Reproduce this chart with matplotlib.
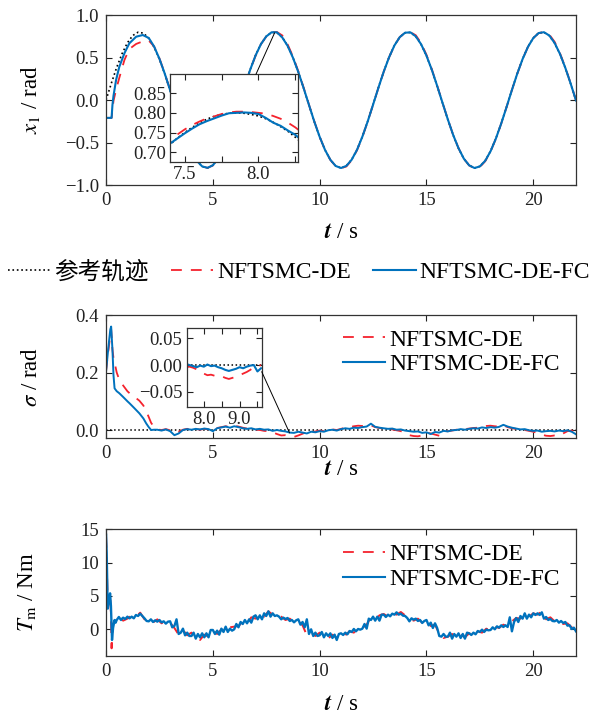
import numpy as np
import matplotlib
matplotlib.use("Agg")
import matplotlib.pyplot as plt
from matplotlib.lines import Line2D
from matplotlib.patches import ConnectionPatch

plt.rcParams["font.family"] = ["Liberation Serif", "Noto Sans CJK SC"]
plt.rcParams["mathtext.fontset"] = "stix"
plt.rcParams["font.size"] = 13.5

BLUE = "#0072BD"
RED = "#F5222D"
DASH = (6, 5)
LABEL_FS = 16.5

LABELS = ["参考轨迹", "NFTSMC-DE", "NFTSMC-DE-FC"]

# ---------------- x1 (position tracking) ----------------
t_ref = np.linspace(0, 22, 89)          # 0.25 s samples
x_ref = [0.000, 0.198, 0.384, 0.545,
         0.673, 0.759, 0.798, 0.787,
         0.727, 0.622, 0.479, 0.305,
         0.113, -0.087, -0.281, -0.457,
         -0.605, -0.716, -0.782, -0.799,
         -0.767, -0.687, -0.564, -0.407,
         -0.224, -0.027, 0.172, 0.360,
         0.526, 0.659, 0.750, 0.796,
         0.792, 0.738, 0.639, 0.500,
         0.330, 0.139, -0.060, -0.256,
         -0.435, -0.588, -0.704, -0.776,
         -0.800, -0.774, -0.700, -0.583,
         -0.429, -0.249, -0.053, 0.146,
         0.336, 0.505, 0.643, 0.741,
         0.792, 0.795, 0.748, 0.654,
         0.520, 0.354, 0.165, -0.034,
         -0.230, -0.413, -0.569, -0.691,
         -0.769, -0.800, -0.780, -0.713,
         -0.601, -0.451, -0.274, -0.080,
         0.120, 0.312, 0.484, 0.627,
         0.730, 0.788, 0.797, 0.757,
         0.669, 0.540, 0.377, 0.191,
         -0.007]

t_x_start = [0.0, 0.1, 0.2, 0.26, 0.30, 0.35, 0.47, 0.62, 0.86, 1.09, 1.41, 1.72, 2.0, 2.25]
x1_fc_start = [-0.21, -0.21, -0.21, -0.21, -0.06, 0.05, 0.235, 0.39, 0.55, 0.667, 0.745, 0.765, 0.73, 0.63]
x1_de_start = [-0.21, -0.21, -0.21, -0.21, -0.12, -0.01, 0.12, 0.26, 0.47, 0.60, 0.66, 0.69, 0.70, 0.63]

t_x_tail = np.linspace(2.5, 22.0, 79)   # 0.25 s samples
x1_fc_tail = [0.485, 0.310,
              0.116, -0.084, -0.279, -0.455,
              -0.603, -0.715, -0.781, -0.798,
              -0.768, -0.689, -0.566, -0.410,
              -0.227, -0.030, 0.170, 0.358,
              0.524, 0.657, 0.748, 0.797,
              0.797, 0.736, 0.637, 0.498,
              0.330, 0.140, -0.058, -0.254,
              -0.433, -0.586, -0.703, -0.776,
              -0.800, -0.775, -0.702, -0.585,
              -0.431, -0.251, -0.055, 0.144,
              0.334, 0.503, 0.642, 0.740,
              0.792, 0.796, 0.749, 0.656,
              0.522, 0.356, 0.167, -0.032,
              -0.228, -0.411, -0.567, -0.690,
              -0.769, -0.800, -0.781, -0.715,
              -0.603, -0.453, -0.276, -0.082,
              0.118, 0.310, 0.482, 0.625,
              0.729, 0.788, 0.798, 0.759,
              0.671, 0.542, 0.379, 0.193,
              -0.005]
x1_de_tail = [0.490, 0.312,
              0.118, -0.082, -0.276, -0.452,
              -0.601, -0.713, -0.780, -0.799,
              -0.770, -0.692, -0.570, -0.414,
              -0.230, -0.033, 0.167, 0.355,
              0.522, 0.656, 0.748, 0.797,
              0.800, 0.760, 0.655, 0.512,
              0.338, 0.145, -0.055, -0.252,
              -0.432, -0.586, -0.704, -0.778,
              -0.802, -0.782, -0.708, -0.590,
              -0.434, -0.253, -0.056, 0.143,
              0.333, 0.502, 0.641, 0.740,
              0.793, 0.798, 0.762, 0.670,
              0.532, 0.362, 0.170, -0.030,
              -0.227, -0.410, -0.566, -0.690,
              -0.770, -0.802, -0.788, -0.720,
              -0.606, -0.455, -0.277, -0.083,
              0.117, 0.309, 0.481, 0.624,
              0.728, 0.788, 0.799, 0.770,
              0.684, 0.550, 0.384, 0.196,
              -0.003]

# zoomed window of x1 around the second peak
t_zoom_x = np.linspace(7.35, 8.30, 20)
x_ref_zoom = [0.700, 0.719, 0.736, 0.750, 0.763, 0.774, 0.784, 0.791, 0.796, 0.799,
              0.800, 0.799, 0.796, 0.792, 0.785, 0.776, 0.765, 0.753, 0.738, 0.722]
x1_fc_zoom = [0.708, 0.722, 0.735, 0.748, 0.760, 0.771, 0.779, 0.786, 0.793, 0.799,
              0.800, 0.801, 0.800, 0.797, 0.787, 0.775, 0.767, 0.755, 0.744, 0.728]
x1_de_zoom = [0.712, 0.727, 0.745, 0.758, 0.769, 0.778, 0.786, 0.791, 0.797, 0.801,
              0.803, 0.803, 0.802, 0.800, 0.798, 0.792, 0.785, 0.775, 0.763, 0.748]

# ---------------- sigma (sliding variable) ----------------
t_s_start = [0.0, 0.1, 0.2, 0.24, 0.30, 0.35, 0.40, 0.50, 0.62, 0.80, 1.00, 1.10,
             1.30, 1.56, 1.75, 1.88, 2.00, 2.11, 2.25]
s_fc_start = [0.203, 0.28, 0.35, 0.36, 0.28, 0.19, 0.145, 0.135, 0.128, 0.115, 0.100, 0.093,
              0.078, 0.058, 0.040, 0.023, 0.010, 0.000, 0.001]
s_de_start = [0.205, 0.27, 0.33, 0.35, 0.28, 0.25, 0.235, 0.200, 0.175, 0.155, 0.135, 0.128,
              0.117, 0.102, 0.085, 0.066, 0.045, 0.025, 0.010]

t_s_tail = np.linspace(2.4, 22.0, 99)   # 0.2 s samples
s_fc_tail = [0.001, -0.002, 0.002, -0.004, -0.018, -0.012, 0.000, 0.003, 0.001, 0.004,
             0.002, 0.005, 0.003, -0.004, 0.006, 0.009, 0.012, 0.008, 0.013, 0.010,
             0.006, 0.004, 0.006, 0.002, 0.004, 0.001, 0.002, -0.003, 0.000, -0.003,
             -0.005, -0.009, -0.010, -0.006, -0.009, -0.012, -0.006, -0.008, -0.004, -0.006,
             -0.001, 0.001, -0.002, 0.003, 0.006, 0.004, 0.008, 0.007, 0.010, 0.012,
             0.022, 0.011, 0.008, 0.006, 0.004, 0.005, 0.001, 0.002, -0.002, -0.004,
             -0.006, -0.005, -0.010, -0.008, -0.014, -0.007, -0.009, -0.003, -0.005, -0.001,
             0.000, 0.003, 0.001, 0.004, 0.006, 0.005, 0.009, 0.007, 0.010, 0.008,
             0.011, 0.018, 0.012, 0.008, 0.005, 0.002, 0.003, -0.001, -0.003, -0.002,
             -0.006, -0.004, -0.003, -0.005, -0.002, -0.004, -0.001, -0.006, -0.015]
s_de_tail = [0.002, 0.000, 0.003, -0.001, -0.008, -0.006, 0.001, 0.004, 0.002, 0.003,
             0.001, 0.004, 0.002, 0.000, 0.007, 0.010, 0.013, 0.011, 0.015, 0.012,
             0.008, 0.005, 0.004, 0.001, 0.000, -0.003, -0.004, -0.008, -0.014, -0.019,
             -0.018, -0.021, -0.024, -0.019, -0.013, -0.006, -0.008, -0.005, -0.002, -0.004,
             0.000, 0.002, 0.000, 0.004, 0.008, 0.010, 0.013, 0.015, 0.014, 0.012,
             0.016, 0.010, 0.007, 0.005, 0.003, 0.002, -0.001, -0.004, -0.009, -0.018,
             -0.021, -0.022, -0.019, -0.010, -0.012, -0.016, -0.020, -0.006, -0.004, -0.002,
             0.001, 0.002, 0.003, 0.005, 0.007, 0.008, 0.011, 0.014, 0.015, 0.013,
             0.012, 0.016, 0.010, 0.006, 0.004, 0.001, 0.000, -0.003, -0.006, -0.010,
             -0.016, -0.020, -0.021, -0.019, -0.020, -0.012, -0.004, -0.002, -0.008]

t_zoom_s = np.linspace(7.5, 9.6, 22)
s_fc_zoom = [0.002, 0.000, -0.002, -0.004, -0.001, -0.003, 0.001, -0.002, -0.001, -0.004, -0.006,
             -0.009, -0.011, -0.009, -0.007, -0.004, -0.006, -0.003, -0.001, 0.000, -0.012, -0.006]
s_de_zoom = [-0.004, -0.003, -0.005, -0.008, -0.012, -0.016, -0.019, -0.018, -0.020, -0.019, -0.021,
             -0.024, -0.026, -0.024, -0.022, -0.019, -0.016, -0.013, -0.009, -0.004, -0.002, 0.000]

# ---------------- Tm (motor torque) ----------------
t_tm_fc_start = [0.0, 0.03, 0.08, 0.13, 0.19, 0.23, 0.28, 0.33, 0.40, 0.45]
tm_fc_start = [14.2, 11.5, 3.1, 4.2, 5.4, 3.5, -1.6, 0.2, 1.4, 1.0]
t_tm_fc = np.linspace(0.5, 22.0, 216)   # 0.1 s samples
tm_fc = [1.4, 1.85, 1.4, 1.75, 1.55,
         1.9, 1.65, 1.9, 1.65, 2.15, 2.0, 2.35, 2.0, 1.65, 1.25,
         1.2, 1.5, 1.1, 1.35, 1.15, 1.4, 1.05, 1.2, 0.85, 1.15,
         1.2, 0.3, 0.5, 1.5, -0.7, -0.5, 0.1, -0.9, -0.5, -1.0,
         -1.0, -0.5, -1.4, -0.7, -1.2, -0.6, -1.2, -0.6, -1.2, -0.1,
         -0.1, -0.7, -0.2, -0.8, 0.1, -0.4, 0.4, -0.4, 0.1, -0.2,
         0.0, 0.8, 0.3, 1.1, 0.8, 1.4, 0.9, 1.5, 1.0, 1.9,
         2.1, 1.5, 2.1, 1.5, 2.4, 2.0, 2.7, 1.9, 2.4, 2.0,
         2.1, 1.9, 1.5, 1.75, 1.55, 1.7, 1.25, 1.4, 1.05, 1.35,
         1.5, 0.7, 1.1, 0.3, 1.5, -0.7, 0.0, -1.0, -0.5, -1.0,
         -0.9, -0.4, -1.2, -0.6, -1.0, -0.6, -1.3, -0.8, -1.6, -0.7,
         -0.6, -0.85, -0.5, -0.75, -0.25, -0.4, 0.05, -0.3, 0.05, -0.05,
         0.1, 0.8, 0.1, 1.6, 1.4, 1.9, 1.3, 1.9, 1.3, 2.2,
         2.2, 1.85, 2.2, 1.95, 2.35, 2.2, 2.55, 2.2, 2.35, 2.05,
         2.0, 1.7, 1.2, 1.65, 1.45, 1.6, 1.25, 1.4, 0.95, 1.25,
         1.4, 0.6, 1.0, 0.2, 0.9, 0.2, -1.0, -1.1, -0.7, -1.1,
         -1.1, -0.5, -1.4, -0.7, -1.1, -0.6, -1.3, -0.7, -1.4, -0.5,
         -0.6, -0.85, -0.5, -0.75, -0.25, -0.4, -0.05, -0.4, -0.05, -0.15,
         -0.1, 0.3, 0.0, 0.45, 0.25, 0.6, 0.35, 0.6, 0.35, 1.8,
         -0.3, 1.1, 1.7, 1.1, 2.0, 1.6, 2.4, 1.6, 2.2, 1.8,
         2.4, 2.15, 2.4, 2.15, 2.55, 1.6, 1.85, 1.4, 1.55, 1.25,
         1.2, 1.4, 1.0, 1.25, 0.95, 1.1, 0.55, 0.6, 0.05, 0.25,
         -0.3]

t_tm_de_start = [0.0, 0.03, 0.08, 0.13, 0.19, 0.23, 0.26, 0.32, 0.40, 0.50]
tm_de_start = [14.0, 10.5, 3.4, 4.0, 5.0, 2.5, -2.85, 0.5, 1.6, 1.7]
t_tm_de = np.linspace(0.6, 22.0, 108)   # 0.2 s samples
tm_de = [1.9, 1.3,
         1.6, 2.1, 1.9, 2.5, 1.5,
         1.6, 1.0, 1.5, 0.9, 1.3,
         1.0, 0.2, -0.8, -0.1, -0.9,
         -0.5, -1.3, -1.6, -0.8, -1.1,
         -0.2, -0.7, 0.0, -0.4, 0.3,
         0.4, 0.5, 1.1, 0.9, 1.8,
         1.6, 2.4, 1.9, 2.7, 2.2,
         1.8, 1.9, 1.4, 1.6, 1.1,
         1.2, 0.6, -0.9, -0.5, -1.0,
         -0.5, -1.1, -1.4, -0.8, -1.3,
         -0.6, -0.9, -0.3, -0.5, 0.2,
         0.2, 0.7, 1.8, 1.4, 2.1,
         2.3, 1.9, 2.5, 2.2, 2.6,
         2.1, 1.6, 1.3, 1.6, 1.0,
         1.2, 0.5, 0.7, -0.7, -1.3,
         -1.1, -0.7, -1.3, -0.8, -1.2,
         -0.6, -0.9, -0.3, -0.5, 0.1,
         -0.2, 0.4, 0.2, 0.7, 0.4,
         1.2, 1.7, 1.6, 2.2, 1.9,
         2.4, 2.2, 2.7, 1.5, 1.8,
         1.2, 1.4, 0.8, 0.9, 0.3,
         -0.2]


def style(ax):
    ax.tick_params(direction="in", top=True, right=True, length=4, width=0.8,
                   labelsize=13.5, pad=5, colors="#222222")
    for s in ax.spines.values():
        s.set_linewidth(0.9)
        s.set_color("#333333")


fig = plt.figure(figsize=(5.94, 7.16), dpi=100)

# ---- top: x1 ----
ax1 = fig.add_axes([0.1785, 0.7416, 0.7912, 0.2374])
ax1.plot(t_ref, x_ref, ls=":", color="k", lw=1.2)
ax1.plot(np.concatenate([t_x_start, t_x_tail]), x1_de_start + x1_de_tail,
         color=RED, lw=1.3, dashes=DASH)
ax1.plot(np.concatenate([t_x_start, t_x_tail]), x1_fc_start + x1_fc_tail,
         color=BLUE, lw=1.5)
ax1.set_xlim(0, 22)
ax1.set_ylim(-1, 1)
ax1.set_xticks([0, 5, 10, 15, 20])
ax1.set_yticks([-1, -0.5, 0, 0.5, 1])
ax1.set_yticklabels(["\u22121.0", "\u22120.5", "0.0", "0.5", "1.0"])
ax1.set_ylabel(r"$x_1$ / rad", fontsize=LABEL_FS)
ax1.set_xlabel(r"$\mathbfit{t}$ / s", fontsize=LABEL_FS)
ax1.yaxis.set_label_coords(-0.137, 0.5)
ax1.xaxis.set_label_coords(0.5, -0.215)
style(ax1)

axin1 = fig.add_axes([0.2862, 0.7742, 0.2160, 0.1221])
axin1.plot(t_zoom_x, x_ref_zoom, ls=":", color="k", lw=1.2)
axin1.plot(t_zoom_x, x1_de_zoom, color=RED, lw=1.3, dashes=DASH)
axin1.plot(t_zoom_x, x1_fc_zoom, color=BLUE, lw=1.5)
axin1.set_xlim(7.40, 8.27)
axin1.set_ylim(0.676, 0.898)
axin1.set_xticks([7.5, 7.75, 8.0, 8.25])
axin1.set_xticklabels(["7.5", "", "8.0", ""])
axin1.set_yticks([0.70, 0.75, 0.80, 0.85])
axin1.set_yticklabels(["0.70", "0.75", "0.80", "0.85"])
style(axin1)
axin1.tick_params(pad=3)
con1 = ConnectionPatch(xyA=(0.67, 1.0), coordsA=axin1.transAxes,
                       xyB=(7.89, 0.79), coordsB=ax1.transData,
                       color="k", lw=0.7)
fig.add_artist(con1)

# ---- legend row ----
h_ref = Line2D([], [], ls=":", color="k", lw=1.2)
h_de = Line2D([], [], color=RED, lw=1.3, dashes=DASH)
h_fc = Line2D([], [], color=BLUE, lw=1.5)
fig.legend([h_ref, h_de, h_fc], LABELS, loc="center", bbox_to_anchor=(0.503, 0.620),
           ncol=3, frameon=False, fontsize=17, handlelength=1.8, handletextpad=0.15,
           columnspacing=0.95, borderpad=0)

# ---- middle: sigma ----
ax2 = fig.add_axes([0.1785, 0.3878, 0.7912, 0.1722])
ax2.axhline(0, ls=":", color="k", lw=1.1)
ax2.plot(np.concatenate([t_s_start, t_s_tail]), s_de_start + s_de_tail,
         color=RED, lw=1.3, dashes=DASH)
ax2.plot(np.concatenate([t_s_start, t_s_tail]), s_fc_start + s_fc_tail,
         color=BLUE, lw=1.4)
ax2.set_xlim(0, 22)
ax2.set_ylim(-0.029, 0.4)
ax2.set_xticks([0, 5, 10, 15, 20])
ax2.set_yticks([0, 0.2, 0.4])
ax2.set_yticklabels(["0.0", "0.2", "0.4"])
ax2.set_ylabel(r"$\sigma$ / rad", fontsize=LABEL_FS)
ax2.set_xlabel(r"$\mathbfit{t}$ / s", fontsize=LABEL_FS)
ax2.yaxis.set_label_coords(-0.137, 0.5)
ax2.xaxis.set_label_coords(0.5, -0.165)
ax2.legend([h_de, h_fc], LABELS[1:], loc="center left", bbox_to_anchor=(0.504, 0.70),
           frameon=False, fontsize=17, handlelength=1.8, handletextpad=0.15,
           labelspacing=0.12, borderpad=0, borderaxespad=0)
style(ax2)

axin2 = fig.add_axes([0.3143, 0.4320, 0.1263, 0.1103])
axin2.axhline(0, ls=":", color="k", lw=1.1)
axin2.plot(t_zoom_s, s_de_zoom, color=RED, lw=1.3, dashes=DASH)
axin2.plot(t_zoom_s, s_fc_zoom, color=BLUE, lw=1.5)
axin2.set_xlim(7.52, 9.62)
axin2.set_ylim(-0.078, 0.07)
axin2.set_xticks([8.0, 8.5, 9.0, 9.5])
axin2.set_xticklabels(["8.0", "", "9.0", ""])
axin2.set_yticks([-0.05, 0.0, 0.05])
axin2.set_yticklabels(["\u22120.05", "0.00", "0.05"])
style(axin2)
axin2.tick_params(pad=3)
con2 = ConnectionPatch(xyA=(1.0, 0.443), coordsA=axin2.transAxes,
                       xyB=(8.59, -0.01), coordsB=ax2.transData,
                       color="k", lw=0.7)
fig.add_artist(con2)

# ---- bottom: Tm ----
ax3 = fig.add_axes([0.1785, 0.0842, 0.7912, 0.1765])
ax3.plot(np.concatenate([t_tm_de_start, t_tm_de]), tm_de_start + tm_de,
         color=RED, lw=1.4, dashes=DASH)
ax3.plot(np.concatenate([t_tm_fc_start, t_tm_fc]), tm_fc_start + tm_fc,
         color=BLUE, lw=1.7)
ax3.set_xlim(0, 22)
ax3.set_ylim(-3.96, 15)
ax3.set_xticks([0, 5, 10, 15, 20])
ax3.set_yticks([0, 5, 10, 15])
ax3.set_ylabel(r"$T_{\rm m}$ / Nm", fontsize=LABEL_FS)
ax3.set_xlabel(r"$\mathbfit{t}$ / s", fontsize=LABEL_FS)
ax3.yaxis.set_label_coords(-0.145, 0.5)
ax3.xaxis.set_label_coords(0.5, -0.30)
ax3.legend([h_de, h_fc], LABELS[1:], loc="center left", bbox_to_anchor=(0.504, 0.703),
           frameon=False, fontsize=17, handlelength=1.8, handletextpad=0.15,
           labelspacing=0.12, borderpad=0, borderaxespad=0)
style(ax3)

fig.savefig("out.png", dpi=100)
